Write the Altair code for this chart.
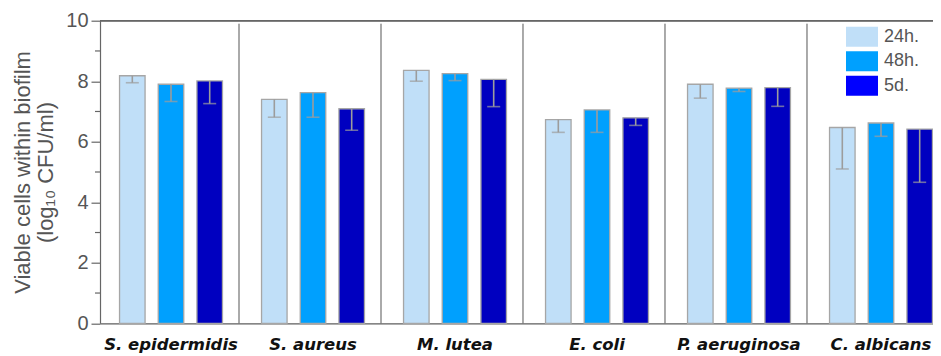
import altair as alt
import pandas as pd

species = ["S. epidermidis", "S. aureus", "M. lutea", "E. coli", "P. aeruginosa", "C. albicans"]
series = ["24h.", "48h.", "5d."]
v24 = [8.18, 7.40, 8.36, 6.73, 7.90, 6.47]
v48 = [7.90, 7.62, 8.25, 7.05, 7.77, 6.62]
v5d = [8.01, 7.09, 8.06, 6.79, 7.79, 6.42]
lo24 = [7.95, 6.81, 8.00, 6.31, 7.44, 5.10]
lo48 = [7.33, 6.81, 8.02, 6.31, 7.66, 6.18]
lo5d = [7.26, 6.38, 7.16, 6.54, 7.17, 4.66]
bar_colors = ["#c0dff8", "#00a0fe", "#0000c0"]
legend_colors = ["#c0dff8", "#00a0fe", "#0000ff"]
major_ticks = [0, 2, 4, 6, 8, 10]
minor_ticks = [1, 3, 5, 7, 9]

rows = []
for vals, lows, s, c in [(v24, lo24, series[0], bar_colors[0]),
                         (v48, lo48, series[1], bar_colors[1]),
                         (v5d, lo5d, series[2], bar_colors[2])]:
    for sp, v, lo in zip(species, vals, lows):
        rows.append({"species": sp, "series": s, "bar_color": c, "value": v, "low": lo})
df = pd.DataFrame(rows)
sep_df = pd.DataFrame({"species": species[1:]})
minor_df = pd.DataFrame({"t": minor_ticks})

FONT = "Liberation Sans"
AXC = "#666666"
ERRC = "#9c9c9c"

xenc = alt.X(
    "species:N", sort=species, title=None,
    scale=alt.Scale(range=[0, 852], paddingInner=0, paddingOuter=0),
    axis=alt.Axis(ticks=False, tickSize=0, labelFontSize=16.5, labelFontStyle="italic",
                  labelFontWeight="bold", labelColor="#111111", labelPadding=13.5,
                  domainColor=AXC, domainWidth=1.2, labelAngle=0, labelFont="DejaVu Sans"),
)
xoff = alt.XOffset("series:N", sort=series,
                   scale=alt.Scale(paddingInner=0.34, paddingOuter=0.505))
yenc = alt.Y(
    "value:Q", scale=alt.Scale(domain=[0, 10], nice=False),
    axis=alt.Axis(values=major_ticks, tickSize=9, tickColor=AXC, tickWidth=1.2,
                  domainColor=AXC, domainWidth=1.2, labelFontSize=20, labelColor="#555555",
                  labelPadding=3, grid=False, labelFont=FONT,
                  title=["Viable cells within biofilm", "(log\u2081\u2080 CFU/ml)"],
                  titleFontSize=22, titleFontWeight="normal", titleColor="#555555",
                  titleFont=FONT, titlePadding=8, titleLineHeight=23),
)

base = alt.Chart(df)

bars = base.mark_bar(stroke="#a6a6a6", strokeWidth=1.3).encode(
    x=xenc, xOffset=xoff, y=yenc,
    fill=alt.Fill("bar_color:N", scale=None),
)

legend_layer = base.mark_bar(strokeWidth=0).encode(
    x=xenc, xOffset=xoff, y=alt.datum(0),
    color=alt.Color("series:N", scale=alt.Scale(domain=series, range=legend_colors),
                    legend=alt.Legend(orient="none", legendX=752, legendY=6, title=None,
                                      symbolType="M-1.6,-1H1.6V1H-1.6Z", symbolSize=400,
                                      symbolStrokeWidth=0, symbolOpacity=1, labelFontSize=18,
                                      labelColor="#555555", labelOffset=12, rowPadding=4.5,
                                      padding=0, labelFont=FONT)),
)

err_rule = base.mark_rule(color=ERRC, strokeWidth=1.6).encode(
    x=xenc, xOffset=xoff, y="value:Q", y2="low:Q",
)
err_cap = base.mark_tick(color=ERRC, size=13, thickness=1.6).encode(
    x=xenc, xOffset=xoff, y="low:Q",
)

separators = alt.Chart(sep_df).mark_rule(color="#555555", strokeWidth=1, xOffset=-3).encode(
    x=alt.X("species:N", sort=species, bandPosition=0),
    y=alt.value(3), y2=alt.value(302.6),
)

top_line = alt.Chart(sep_df).mark_rule(color=AXC, strokeWidth=1.2).encode(
    y=alt.datum(10), x=alt.value(0), x2=alt.value(852),
)

minor = alt.Chart(minor_df).mark_rule(color=AXC, strokeWidth=1.2).encode(
    y=alt.Y("t:Q"), x=alt.value(-5), x2=alt.value(0),
)

chart = alt.layer(bars, legend_layer, err_rule, err_cap, separators, top_line, minor).properties(
    width=833, height=302.6,
    autosize=alt.AutoSizeParams(type="none"),
    padding={"left": 92, "top": 12.7, "right": 0, "bottom": 32.5},
).configure_view(stroke=None).configure(font=FONT)

chart.save("out.html", embed_options={"renderer": "svg", "actions": False})
